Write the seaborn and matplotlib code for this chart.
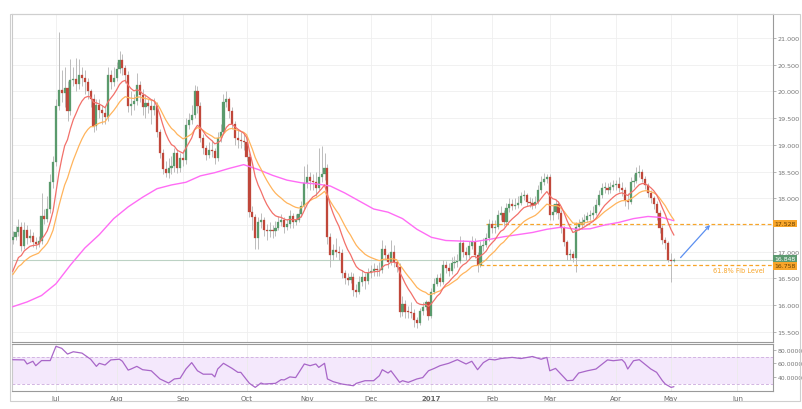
import numpy as np
import pandas as pd
import matplotlib
matplotlib.use("Agg")
import matplotlib.pyplot as plt
import seaborn as sns
from matplotlib.patches import Rectangle

# ---------------- data ----------------
first_open = 17.22
closes = [
    17.28, 17.36, 17.47, 17.10, 17.40, 17.25, 17.30, 17.18, 17.15, 17.20,
    17.66, 17.62, 17.80, 18.30, 18.68, 19.72, 20.03, 19.98, 20.06, 19.63,
    20.22, 20.24, 20.14, 20.30, 20.26, 20.18, 20.00, 19.85, 19.35, 19.74,
    19.66, 19.60, 19.52, 20.30, 20.18, 20.26, 20.42, 20.58, 20.44, 20.30,
    19.72, 19.76, 19.82, 20.12, 19.94, 19.70, 19.78, 19.72, 19.66, 19.72,
    19.25, 18.85, 18.55, 18.47, 18.56, 18.60, 18.84, 18.56, 18.75, 18.72,
    19.37, 19.47, 19.55, 20.00, 19.72, 19.13, 18.94, 18.81, 18.90, 18.88,
    18.75, 19.13, 19.25, 19.81, 19.85, 19.63, 19.40, 19.12, 19.10, 19.08,
    19.06, 18.78, 17.75, 17.65, 17.25, 17.55, 17.60, 17.40, 17.38, 17.40,
    17.38, 17.45, 17.56, 17.60, 17.47, 17.52, 17.66, 17.56, 17.60, 17.70,
    17.85, 18.28, 18.40, 18.33, 18.30, 18.20, 18.40, 18.45, 18.56, 17.28,
    16.94, 17.03, 17.00, 16.98, 16.60, 16.50, 16.47, 16.53, 16.28, 16.25,
    16.44, 16.53, 16.45, 16.60, 16.64, 16.67, 16.65, 16.66, 17.05, 16.94,
    16.80, 17.00, 16.80, 16.72, 15.87, 16.03, 15.88, 15.87, 15.86, 15.72,
    15.66, 15.89, 15.97, 16.05, 15.80, 16.25, 16.40, 16.50, 16.44, 16.75,
    16.70, 16.63, 16.78, 16.80, 16.82, 17.16, 17.00, 16.93, 17.10, 17.19,
    16.94, 16.75, 17.10, 17.13, 17.25, 17.52, 17.44, 17.47, 17.69, 17.72,
    17.56, 17.81, 17.89, 17.86, 17.88, 17.92, 18.05, 18.06, 17.94, 17.92,
    17.88, 17.94, 18.16, 18.31, 18.37, 18.40, 17.69, 17.75, 17.90, 17.72,
    17.44, 17.19, 16.94, 16.96, 16.88, 17.47, 17.52, 17.56, 17.60, 17.66,
    17.69, 17.72, 17.88, 18.06, 18.19, 18.20, 18.16, 18.21, 18.24, 18.26,
    18.20, 18.16, 17.97, 17.94, 18.31, 18.33, 18.47, 18.50, 18.37, 18.25,
    18.10, 18.00, 17.90, 17.72, 17.44, 17.22, 17.16, 16.85, 16.82, 16.848,
]
highs = [
    17.38, 17.48, 17.62, 17.56, 17.55, 17.50, 17.42, 17.36, 17.27, 17.30,
    18.10, 17.80, 18.05, 18.45, 18.80, 19.85, 21.12, 20.40, 20.45, 20.20,
    20.60, 20.45, 20.62, 20.60, 20.45, 20.40, 20.25, 20.05, 19.95, 19.85,
    19.85, 19.75, 19.70, 20.45, 20.40, 20.45, 20.55, 20.75, 20.70, 20.50,
    20.38, 20.00, 19.95, 20.35, 20.20, 20.05, 19.95, 19.85, 19.85, 19.88,
    19.80, 19.30, 18.92, 18.70, 18.75, 18.80, 18.95, 18.92, 18.85, 18.90,
    19.50, 19.60, 19.75, 20.12, 20.10, 19.80, 19.20, 19.00, 19.05, 19.10,
    18.95, 19.25, 19.40, 19.95, 20.00, 19.90, 19.70, 19.45, 19.30, 19.25,
    19.20, 19.15, 18.85, 17.85, 17.70, 17.65, 17.72, 17.65, 17.52, 17.55,
    17.50, 17.58, 17.66, 17.70, 17.65, 17.62, 17.78, 17.72, 17.70, 17.80,
    17.95, 18.60, 18.65, 18.50, 18.45, 18.50, 18.95, 18.98, 18.85, 18.65,
    17.35, 17.15, 17.25, 17.10, 17.05, 16.65, 16.60, 16.62, 16.60, 16.40,
    16.55, 16.65, 16.60, 16.70, 16.75, 16.78, 16.75, 16.80, 17.22, 17.12,
    16.98, 17.22, 17.12, 16.85, 16.78, 16.18, 16.10, 15.98, 16.05, 15.92,
    15.78, 15.95, 16.05, 16.10, 16.08, 16.32, 16.50, 16.58, 16.60, 16.85,
    16.82, 16.78, 16.90, 16.92, 16.95, 17.30, 17.22, 17.08, 17.20, 17.30,
    17.25, 17.00, 17.20, 17.25, 17.35, 17.62, 17.60, 17.60, 17.78, 17.85,
    17.78, 17.92, 18.00, 17.98, 18.00, 18.05, 18.12, 18.15, 18.10, 18.02,
    18.00, 18.05, 18.25, 18.42, 18.47, 18.45, 18.45, 17.90, 17.98, 17.95,
    17.78, 17.48, 17.22, 17.05, 17.02, 17.55, 17.62, 17.65, 17.70, 17.75,
    17.78, 17.85, 17.98, 18.15, 18.28, 18.30, 18.28, 18.30, 18.35, 18.35,
    18.40, 18.30, 18.22, 18.10, 18.40, 18.45, 18.58, 18.62, 18.55, 18.42,
    18.28, 18.15, 18.05, 17.95, 17.78, 17.50, 17.28, 17.20, 16.98, 16.88,
]
lows = [
    17.15, 17.22, 17.30, 17.02, 17.05, 17.15, 17.18, 17.08, 17.06, 17.08,
    17.15, 17.52, 17.55, 17.72, 18.20, 18.60, 19.65, 19.80, 19.70, 19.45,
    19.55, 20.10, 20.00, 20.05, 20.10, 19.95, 19.85, 19.70, 19.25, 19.28,
    19.50, 19.40, 19.40, 19.45, 20.05, 20.10, 20.20, 20.35, 20.30, 20.15,
    19.62, 19.55, 19.65, 19.75, 19.80, 19.55, 19.50, 19.60, 19.40, 19.55,
    19.15, 18.75, 18.45, 18.40, 18.38, 18.45, 18.50, 18.48, 18.50, 18.60,
    18.65, 19.30, 19.40, 19.50, 19.60, 19.05, 18.82, 18.72, 18.75, 18.78,
    18.65, 18.70, 19.05, 19.20, 19.70, 19.50, 19.30, 19.00, 18.95, 18.95,
    18.90, 18.70, 17.65, 17.40, 17.05, 17.05, 17.45, 17.30, 17.22, 17.28,
    17.25, 17.30, 17.40, 17.48, 17.35, 17.40, 17.45, 17.45, 17.50, 17.55,
    17.65, 17.80, 18.20, 18.15, 18.15, 18.05, 18.15, 18.30, 18.35, 17.15,
    16.72, 16.85, 16.90, 16.85, 16.50, 16.40, 16.38, 16.42, 16.18, 16.15,
    16.20, 16.35, 16.30, 16.40, 16.50, 16.55, 16.55, 16.55, 16.60, 16.85,
    16.70, 16.75, 16.72, 16.62, 15.78, 15.80, 15.75, 15.75, 15.76, 15.60,
    15.58, 15.62, 15.82, 15.90, 15.72, 15.75, 16.20, 16.35, 16.35, 16.40,
    16.60, 16.55, 16.58, 16.70, 16.72, 16.78, 16.90, 16.85, 16.88, 17.05,
    16.88, 16.62, 16.72, 17.02, 17.08, 17.20, 17.35, 17.35, 17.42, 17.60,
    17.48, 17.52, 17.75, 17.78, 17.80, 17.82, 17.88, 17.96, 17.85, 17.84,
    17.80, 17.82, 17.90, 18.10, 18.25, 18.28, 17.60, 17.60, 17.70, 17.62,
    17.35, 17.10, 16.85, 16.85, 16.80, 16.62, 17.40, 17.42, 17.50, 17.55,
    17.60, 17.62, 17.68, 17.85, 18.00, 18.10, 18.08, 18.10, 18.15, 18.15,
    18.12, 18.05, 17.85, 17.80, 17.90, 18.22, 18.28, 18.40, 18.30, 18.18,
    18.02, 17.92, 17.80, 17.60, 17.35, 17.15, 17.05, 16.80, 16.43, 16.80,
]

# moving-average start values read at the first bar
fast_ma_start = 16.63
mid_ma_start = 16.57
fast_span, mid_span = 10, 20

# slow moving average (magenta), by trading day
slow_ma_day = [0, 5, 10, 15, 20, 25, 30, 35, 40, 45, 50, 55, 60, 65, 70, 75,
               80, 85, 90, 95, 100, 105, 110, 115, 120, 125, 130, 135, 140,
               145, 150, 155, 160, 165, 170, 175, 180, 185, 190, 195, 200,
               205, 210, 215, 220, 225, 229]
slow_ma = [15.97, 16.06, 16.18, 16.40, 16.75, 17.07, 17.32, 17.62, 17.84,
           18.02, 18.18, 18.25, 18.30, 18.42, 18.48, 18.56, 18.63, 18.54,
           18.43, 18.34, 18.29, 18.27, 18.23, 18.10, 17.95, 17.80, 17.74,
           17.62, 17.42, 17.27, 17.21, 17.20, 17.19, 17.23, 17.28, 17.32,
           17.36, 17.42, 17.46, 17.42, 17.43, 17.50, 17.55, 17.62, 17.66,
           17.64, 17.58]

# RSI, by trading day
rsi_day = [0, 4, 5, 7, 8, 10, 13, 15, 17, 19, 21, 24, 27, 29, 30, 32, 34, 37,
           38, 40, 41, 43, 45, 48, 51, 54, 56, 58, 60, 62, 64, 66, 69, 70, 71,
           73, 76, 78, 79, 82, 84, 86, 87, 91, 93, 94, 96, 98, 101, 103, 105,
           106, 108, 109, 111, 114, 118, 119, 122, 125, 127, 128, 130, 131,
           134, 135, 137, 140, 142, 144, 146, 148, 151, 154, 157, 159, 161,
           163, 165, 167, 169, 173, 176, 180, 183, 185, 186, 188, 191, 192,
           194, 196, 199, 202, 206, 208, 211, 212, 213, 215, 217, 221, 223,
           225, 226, 228, 229]
rsi_val = [65.3, 65.0, 59.0, 63.0, 56.5, 64.0, 64.0, 85.0, 82.0, 73.6, 77.0,
           75.0, 66.0, 55.5, 60.0, 57.5, 65.0, 66.0, 63.0, 50.0, 51.6, 55.5,
           50.6, 49.0, 37.0, 31.0, 37.0, 38.0, 51.6, 61.0, 49.0, 44.0, 44.0,
           40.0, 51.6, 60.0, 52.5, 46.7, 46.7, 30.5, 24.6, 31.0, 29.5, 30.5,
           36.0, 35.5, 40.0, 39.0, 59.0, 56.5, 59.0, 54.0, 60.0, 37.0, 33.0,
           29.5, 27.0, 30.5, 34.4, 34.4, 41.8, 50.6, 45.7, 49.0, 32.0, 34.4,
           32.0, 37.0, 39.0, 49.0, 52.5, 56.5, 60.0, 65.3, 59.0, 63.0, 50.6,
           61.0, 66.0, 65.0, 67.0, 68.7, 67.0, 70.0, 66.0, 68.7, 49.0, 52.5,
           39.0, 34.4, 35.0, 45.7, 49.0, 51.6, 65.0, 63.8, 65.3, 61.0, 51.6,
           63.8, 65.3, 51.6, 46.7, 34.4, 29.5, 24.6, 25.6]

last_price = 16.848
fib_levels = [17.528, 16.758]
fib_start_day = [164, 162]
fib_text = "61.8% Fib Level"
fib_text_pos = (242.4, 16.66)
arrow_from = (231.3, 16.89)
arrow_to = (241.5, 17.50)

holidays = ["2016-12-26", "2017-01-02", "2017-04-14"]
month_names = ["Jul", "Aug", "Sep", "Oct", "Nov", "Dec", "2017",
               "Feb", "Mar", "Apr", "May", "Jun"]
price_ticks = [15.5, 16.0, 16.5, 17.0, 17.5, 18.0, 18.5, 19.0, 19.5,
               20.0, 20.5, 21.0]
rsi_ticks = [40, 60, 80]

# ---------------- styling ----------------
GREEN = "#5a9a6c"
RED = "#c0473a"
WICK = "#bcbcbc"
FAST = "#f2706a"
MID = "#ffb45c"
SLOW = "#ff6cf5"
RSI_C = "#a866c8"
ORANGE = "#f7a52a"

sns.set_theme(style="white")
plt.rcParams["font.family"] = ["DejaVu Sans"]

# trading calendar
cal = pd.bdate_range("2016-06-10", "2017-06-30")
cal = cal[~cal.isin(pd.to_datetime(holidays))]
pos = pd.Series(np.arange(len(cal)), index=cal)
month_first = pos.groupby(cal.to_period("M")).min()
month_pos = list(month_first.values[1:1 + len(month_names)])

n = len(closes)
days = np.arange(n)
c = np.array(closes)
o = np.array([first_open] + closes[:-1])
h = np.array(highs)
l = np.array(lows)

fast_ma = pd.Series([fast_ma_start] + closes[1:]).ewm(span=fast_span, adjust=False).mean().values
mid_ma = pd.Series([mid_ma_start] + closes[1:]).ewm(span=mid_span, adjust=False).mean().values

W, H = 802, 410
fig = plt.figure(figsize=(W / 100, H / 100), dpi=100)
fig.patch.set_facecolor("white")

def fx(px):
    return px / W

def fy(py):
    return 1 - py / H

left, right = 11.5, 772.7
ax = fig.add_axes([fx(left), fy(343), fx(right - left), fy(15) - fy(343)])
ax2 = fig.add_axes([fx(left), fy(391.7), fx(right - left), fy(345) - fy(391.7)], sharex=ax)

xmin, xmax = -0.4, 263.2

# ---- main panel ----
tag_levels = fib_levels + [last_price]

def price_fmt(v, p):
    # the price tags on the axis take the place of nearby tick labels
    if any(abs(v - t) < 0.06 for t in tag_levels):
        return ""
    return f"{v:.3f}"

ax.set_facecolor("white")
ax.set_xlim(xmin, xmax)
ax.set_ylim(15.31, 21.45)
ax.set_yticks(price_ticks)
ax.set_xticks(month_pos)
ax.grid(True, color="#efefef", lw=0.6, zorder=0)
ax.tick_params(axis="x", labelbottom=False, length=0)
ax.yaxis.tick_right()
ax.yaxis.set_major_formatter(matplotlib.ticker.FuncFormatter(price_fmt))
ax.tick_params(axis="y", length=2, width=0.5, colors="#999999",
               labelsize=4.6, labelcolor="#777777", pad=1.5)
for side, col in [("left", "#c9c9c9"), ("right", "#9a9a9a"),
                  ("top", "#d0d0d0"), ("bottom", "#9a9a9a")]:
    ax.spines[side].set_color(col)
    ax.spines[side].set_linewidth(0.8)

ax.axhline(last_price, color="#bcd2c4", lw=0.8, zorder=1)

body_lo = np.minimum(o, c)
body_hi = np.maximum(o, c)
ax.vlines(days, np.minimum(l, body_lo), np.maximum(h, body_hi),
          color=WICK, lw=0.7, zorder=2)
colors = np.where(c >= o, GREEN, RED)
ax.bar(days, np.maximum(body_hi - body_lo, 0.015), bottom=body_lo,
       width=0.74, color=colors, edgecolor=colors, lw=0.2, zorder=3)

sns.lineplot(x=slow_ma_day, y=slow_ma, ax=ax, color=SLOW, lw=1.0, zorder=4)
sns.lineplot(x=days, y=mid_ma, ax=ax, color=MID, lw=0.9, zorder=4)
sns.lineplot(x=days, y=fast_ma, ax=ax, color=FAST, lw=0.9, zorder=5)

tag_shift = {17.528: 0.0, 16.758: -0.9}
for lvl, start in zip(fib_levels, fib_start_day):
    ax.plot([start, xmax], [lvl, lvl], color=ORANGE, lw=0.9,
            ls=(0, (3, 2)), zorder=2, clip_on=False)
    ax.annotate(f"{lvl:.3f}", xy=(1, lvl), xycoords=("axes fraction", "data"),
                xytext=(1.2, tag_shift[lvl]), textcoords="offset points",
                ha="left", va="center", fontsize=4.4, color="#6a4200",
                bbox=dict(boxstyle="square,pad=0.22", fc=ORANGE, ec="none"),
                annotation_clip=False, zorder=10)
ax.annotate(f"{last_price:.3f}", xy=(1, last_price),
            xycoords=("axes fraction", "data"), xytext=(1.2, 1.0),
            textcoords="offset points", ha="left", va="center",
            fontsize=4.4, color="white",
            bbox=dict(boxstyle="square,pad=0.22", fc="#5c9a70", ec="none"),
            annotation_clip=False, zorder=11)

ax.text(fib_text_pos[0], fib_text_pos[1], fib_text, color=ORANGE,
        fontsize=4.7, ha="left", va="center")
ax.annotate("", xy=arrow_to, xytext=arrow_from,
            arrowprops=dict(arrowstyle="->", color="#5b8ff0", lw=0.9,
                            shrinkA=0, shrinkB=0, mutation_scale=6))
ax.set_xlabel("")
ax.set_ylabel("")

# ---- RSI panel ----
ax2.set_facecolor("white")
ax2.set_ylim(19.7, 88.4)
ax2.axhspan(30, 70, color="#f4e8fc", zorder=0, lw=0)
ax2.axhline(70, color="#d2b4e2", lw=0.7, ls=(0, (3, 2)), zorder=1)
ax2.axhline(30, color="#d2b4e2", lw=0.7, ls=(0, (3, 2)), zorder=1)
ax2.set_xticks(month_pos)
ax2.set_xticklabels(month_names)
ax2.grid(True, axis="x", color="#ebebeb", lw=0.6, zorder=0)
sns.lineplot(x=rsi_day, y=rsi_val, ax=ax2, color=RSI_C, lw=0.9, zorder=3)
ax2.set_yticks(rsi_ticks)
ax2.yaxis.tick_right()
ax2.yaxis.set_major_formatter(matplotlib.ticker.FormatStrFormatter("%.4f"))
ax2.tick_params(axis="y", length=2, width=0.5, colors="#999999",
                labelsize=4.4, labelcolor="#777777", pad=1.5)
ax2.tick_params(axis="x", length=0, labelsize=5, labelcolor="#666666", pad=3)
for lab in ax2.get_xticklabels():
    if lab.get_text() == "2017":
        lab.set_fontweight("bold")
for side, col in [("left", "#c9c9c9"), ("right", "#9a9a9a"),
                  ("top", "#9a9a9a"), ("bottom", "#9a9a9a")]:
    ax2.spines[side].set_color(col)
    ax2.spines[side].set_linewidth(0.8)
ax2.set_xlabel("")
ax2.set_ylabel("")
ax2.set_xlim(xmin, xmax)

# outer frame
fig.patches.append(Rectangle((fx(10), fy(402)), fx(790), fy(15) - fy(402),
                             transform=fig.transFigure, fill=False,
                             ec="#cfcfcf", lw=0.8))

fig.savefig("out.png", dpi=100)
